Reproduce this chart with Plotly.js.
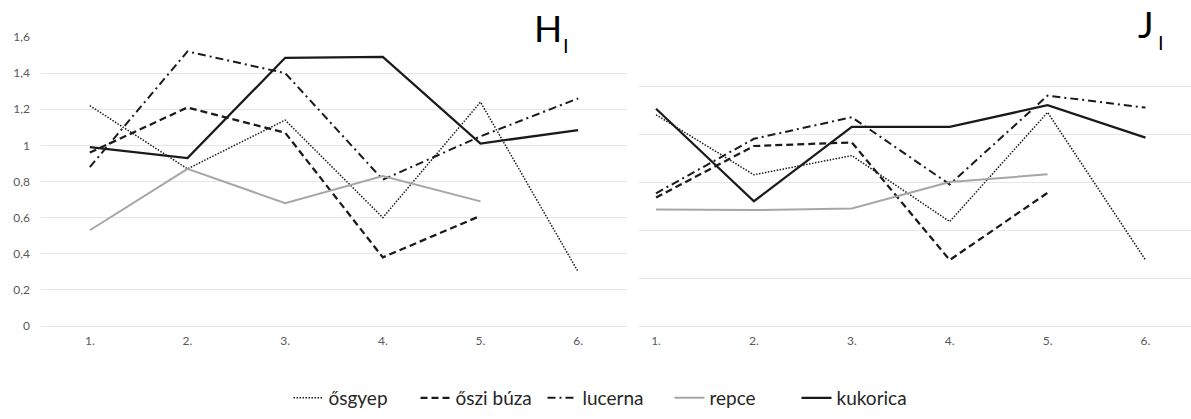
<!DOCTYPE html>
<html><head><meta charset="utf-8">
<script src="https://cdn.plot.ly/plotly-3.0.1.min.js"></script>
<style>html,body{margin:0;padding:0;background:#fff}#chart{width:1191px;height:419px}</style>
</head><body><div id="chart"></div>
<script>
const categories = ['1.','2.','3.','4.','5.','6.'];
const seriesNames = ['ősgyep','őszi búza','lucerna','repce','kukorica'];
// H_I panel
const hOsgyep   = [1.22, 0.87, 1.14, 0.60, 1.24, 0.30];
const hOsziBuza = [0.96, 1.21, 1.07, 0.38, 0.61, null];
const hLucerna  = [0.88, 1.52, 1.40, 0.81, 1.05, 1.26];
const hRepce    = [0.53, 0.87, 0.68, 0.83, 0.69, null];
const hKukorica = [0.99, 0.93, 1.485, 1.49, 1.01, 1.085];
// J_I panel
const jOsgyep   = [0.88, 0.63, 0.71, 0.435, 0.89, 0.275];
const jOsziBuza = [0.535, 0.75, 0.765, 0.275, 0.555, null];
const jLucerna  = [0.553, 0.78, 0.87, 0.59, 0.96, 0.91];
const jRepce    = [0.485, 0.483, 0.49, 0.60, 0.632, null];
const jKukorica = [0.905, 0.52, 0.83, 0.83, 0.92, 0.785];

const styles = [
  {color:'#1a1a1a', width:1.5, dash:'1.5px,1.5px'},
  {color:'#1a1a1a', width:2.25, dash:'7px,4px'},
  {color:'#1a1a1a', width:2, dash:'8px,4px,2px,4px'},
  {color:'#a6a6a6', width:2, dash:'solid'},
  {color:'#1a1a1a', width:2.25, dash:'solid'}
];
const hData = [hOsgyep, hOsziBuza, hLucerna, hRepce, hKukorica];
const jData = [jOsgyep, jOsziBuza, jLucerna, jRepce, jKukorica];

const traces = [];
hData.forEach((ys,i)=>traces.push({x:categories, y:ys, type:'scatter', mode:'lines', name:seriesNames[i],
  line:styles[i], xaxis:'x', yaxis:'y', legendgroup:seriesNames[i], showlegend:true, hoverinfo:'skip'}));
jData.forEach((ys,i)=>traces.push({x:categories, y:ys, type:'scatter', mode:'lines', name:seriesNames[i],
  line:styles[i], xaxis:'x2', yaxis:'y2', legendgroup:seriesNames[i], showlegend:false, hoverinfo:'skip'}));

const W=1191, H=419;
const px = v => v/W, py = v => 1 - v/H;
const tickFont = {family:'Lato, "Liberation Sans", sans-serif', size:12, color:'#595959'};
const layout = {
  width:W, height:H, margin:{l:0,r:0,t:0,b:0},
  paper_bgcolor:'#fff', plot_bgcolor:'rgba(0,0,0,0)',
  separators:',.',
  showlegend:true,
  legend:{orientation:'h', x:px(606), xanchor:'center', y:py(398), yanchor:'middle',
    entrywidth:82, entrywidthmode:'pixels',
    font:{family:'Lato, "Liberation Sans", sans-serif', size:19, color:'#262626'}, traceorder:'normal'},
  xaxis:{domain:[px(41),px(627)], type:'category', range:[-0.5,5.5], showgrid:false, zeroline:false,
    showline:false, ticks:'', tickfont:tickFont, ticklabelstandoff:6, anchor:'y'},
  yaxis:{domain:[py(326),py(37)], range:[0,1.6], dtick:0.2, tick0:0, showgrid:true, gridcolor:'#e6e6e6', gridwidth:1,
    zeroline:true, zerolinecolor:'#e6e6e6', zerolinewidth:1, showline:false, ticks:'', tickfont:tickFont,
    ticklabelstandoff:10, anchor:'x'},
  xaxis2:{domain:[px(639),1], type:'category', range:[-0.174,5.465], showgrid:false, zeroline:false,
    showline:false, ticks:'', tickfont:tickFont, ticklabelstandoff:6, anchor:'y2'},
  yaxis2:{domain:[py(326),py(38)], range:[0,1.2], dtick:0.2, tick0:0, showgrid:true, gridcolor:'#e6e6e6', gridwidth:1,
    zeroline:true, zerolinecolor:'#e6e6e6', zerolinewidth:1, showline:false, showticklabels:false, anchor:'x2'},
  annotations:[
    {text:'H', xref:'paper', yref:'paper', x:px(548), y:py(27), xanchor:'center', yanchor:'middle', showarrow:false,
      font:{family:'Lato, "Liberation Sans", sans-serif', size:37, color:'#000'}},
    {text:'I', xref:'paper', yref:'paper', x:px(566), y:py(46), xanchor:'center', yanchor:'middle', showarrow:false,
      font:{family:'"DejaVu Sans", sans-serif', size:19, color:'#000'}},
    {text:'J', xref:'paper', yref:'paper', x:px(1146), y:py(24), xanchor:'center', yanchor:'middle', showarrow:false,
      font:{family:'Lato, "Liberation Sans", sans-serif', size:37, color:'#000'}},
    {text:'I', xref:'paper', yref:'paper', x:px(1161), y:py(43), xanchor:'center', yanchor:'middle', showarrow:false,
      font:{family:'"DejaVu Sans", sans-serif', size:19, color:'#000'}}
  ]
};
Plotly.newPlot('chart', traces, layout, {staticPlot:true, displayModeBar:false});
</script></body></html>
